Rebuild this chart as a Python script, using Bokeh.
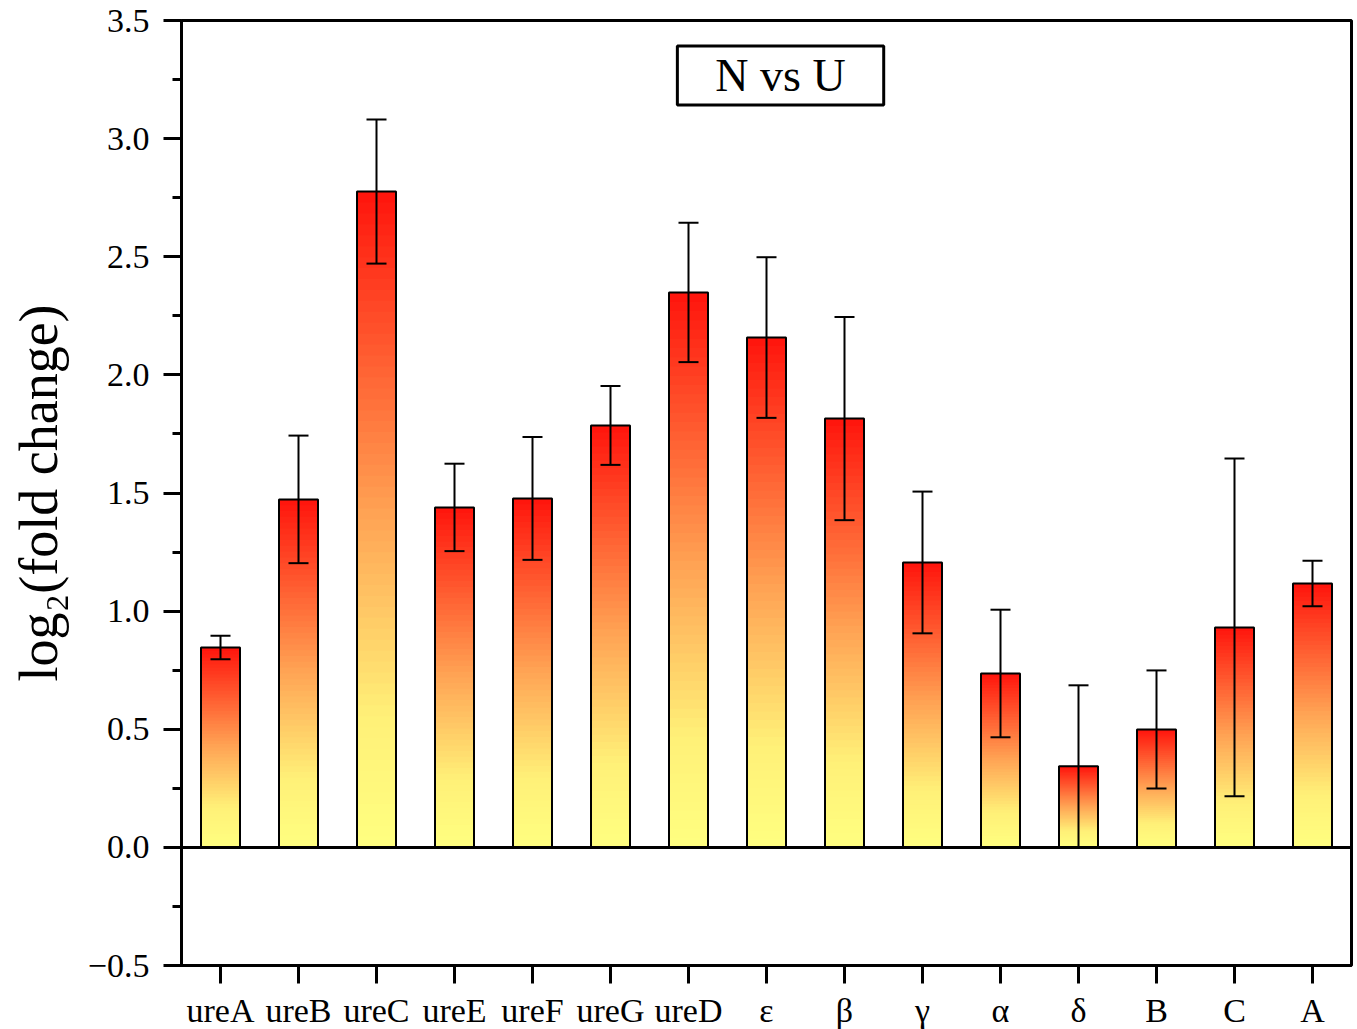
import numpy as np
from bokeh.plotting import figure
from bokeh.models import (ColumnDataSource, Whisker, TeeHead, Span, Label,
                          FixedTicker, SingleIntervalTicker, CustomJSTickFormatter, Range1d)
from bokeh.embed import file_html
from bokeh.resources import INLINE

categories = ["ureA", "ureB", "ureC", "ureE", "ureF", "ureG", "ureD",
              "ε", "β", "γ", "α", "δ", "B", "C", "A"]
means = [0.846, 1.473, 2.776, 1.439, 1.477, 1.786, 2.349,
         2.158, 1.815, 1.206, 0.736, 0.343, 0.499, 0.931, 1.117]
errors = [0.050, 0.270, 0.305, 0.185, 0.260, 0.167, 0.295,
          0.340, 0.430, 0.300, 0.270, 0.343, 0.250, 0.715, 0.096]

FONT = "Liberation Serif"
x = np.arange(1, len(categories) + 1)

p = figure(width=1357, height=1029, output_backend="svg", toolbar_location=None,
           x_range=Range1d(0.5, 15.5), y_range=Range1d(-0.5, 3.5),
           frame_width=1170, frame_height=945,
           min_border_left=181, min_border_right=6, min_border_top=20, min_border_bottom=64)
p.background_fill_color = "white"
p.border_fill_color = "white"
p.grid.visible = False
p.outline_line_color = "black"
p.outline_line_width = 3

# gradient bars: slices derived from each bar's value
N = 60
stops_t = [0.0, 0.2, 0.5, 1.0]
stops_c = [(255, 255, 128), (255, 240, 120), (255, 165, 85), (255, 20, 12)]
L, R, B, T, C = [], [], [], [], []
for xi, m in zip(x, means):
    for k in range(N):
        t0, t1 = k / N, (k + 1) / N
        tm = (t0 + t1) / 2
        col = [int(round(np.interp(tm, stops_t, [c[j] for c in stops_c]))) for j in range(3)]
        L.append(xi - 0.25); R.append(xi + 0.25)
        B.append(m * t0); T.append(min(m, m * t1 + 0.006))
        C.append("#%02x%02x%02x" % tuple(col))
p.quad(left=L, right=R, bottom=B, top=T, fill_color=C, line_color=None)

src = ColumnDataSource(dict(x=x, top=means, lower=np.array(means) - np.array(errors),
                            upper=np.array(means) + np.array(errors)))
p.vbar(x="x", top="top", bottom=0, width=0.5, source=src,
       fill_color=None, line_color="black", line_width=2)

w = Whisker(base="x", lower="lower", upper="upper", source=src,
            line_color="black", line_width=2, level="overlay",
            upper_head=TeeHead(size=20, line_color="black", line_width=2),
            lower_head=TeeHead(size=20, line_color="black", line_width=2))
p.add_layout(w)

p.add_layout(Span(location=0, dimension="width", line_color="black", line_width=3))

# axes
p.xaxis.ticker = FixedTicker(ticks=list(x))
p.xaxis.major_label_overrides = {int(i): c for i, c in zip(x, categories)}
p.xaxis.major_tick_out = 18
p.xaxis.major_tick_in = 0
p.xaxis.minor_tick_line_color = None
p.xaxis.major_label_standoff = 8

p.yaxis.ticker = SingleIntervalTicker(interval=0.5, num_minor_ticks=2)
p.yaxis.formatter = CustomJSTickFormatter(code="return tick.toFixed(1).replace('-', '\u2212');")
p.yaxis.major_tick_out = 18
p.yaxis.major_tick_in = 0
p.yaxis.minor_tick_out = 9
p.yaxis.minor_tick_in = 0
p.yaxis.major_label_standoff = 14
p.yaxis.axis_label = "log\u2082(fold change)"
p.yaxis.axis_label_standoff = 16

for ax in (p.xaxis, p.yaxis):
    ax.axis_line_width = 3
    ax.axis_line_color = "black"
    ax.major_tick_line_width = 3
    ax.minor_tick_line_width = 3
    ax.major_tick_line_color = "black"
    ax.major_label_text_font = FONT
    ax.major_label_text_font_size = "34px"
    ax.major_label_text_color = "black"
    ax.axis_label_text_font = FONT
    ax.axis_label_text_font_size = "54px"
    ax.axis_label_text_font_style = "normal"
    ax.axis_label_text_color = "black"

title = Label(x=8.18, y=3.267, text="N vs U", text_font=FONT, text_font_size="46px",
              text_align="center", text_baseline="middle", text_color="black",
              background_fill_color="white", border_line_color="black",
              border_line_width=3, padding=(38, 4))
p.add_layout(title)

open("out.html", "w").write(file_html(p, INLINE))
